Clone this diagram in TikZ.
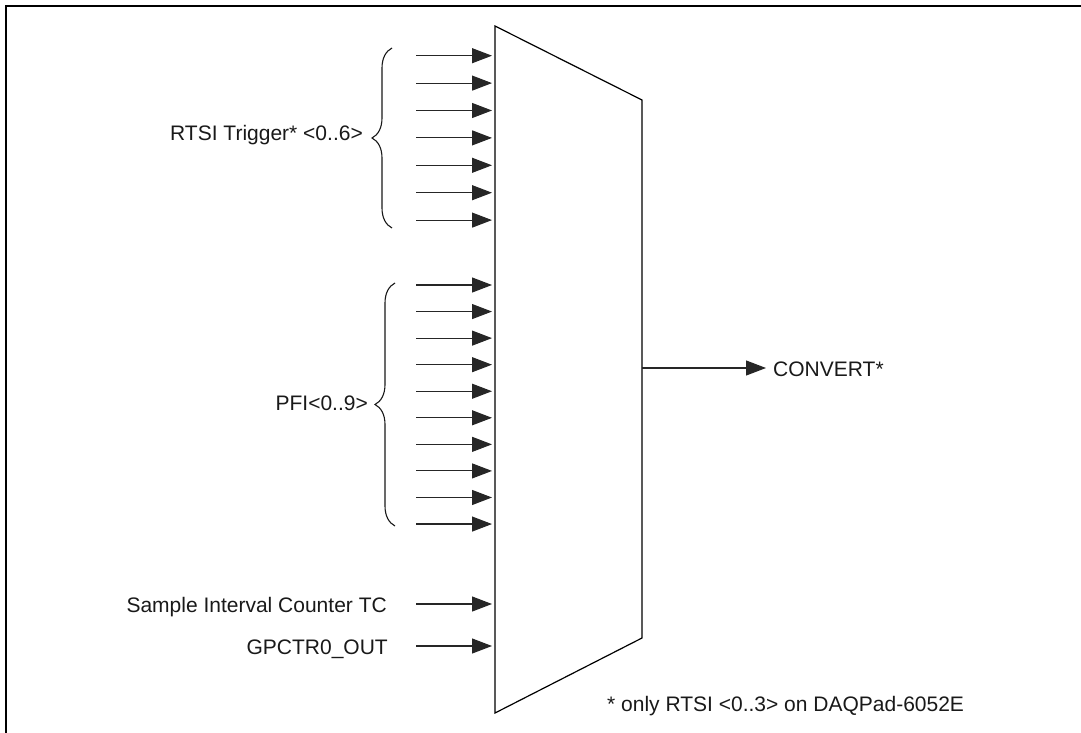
\documentclass[tikz,border=0pt]{standalone}
\usepackage{fontspec}
\setmainfont{Liberation Sans}
\usetikzlibrary{arrows.meta,decorations.pathreplacing}
\begin{document}
\begin{tikzpicture}[x=1pt,y=1pt,
  lbl/.style={font=\fontsize{21}{25}\selectfont, inner sep=0pt, text=black!90},
  sig/.style={line width=1.1pt, draw=black!85, -{Triangle[length=20pt,width=15pt]}},
  brc/.style={decorate, decoration={brace, amplitude=20pt}, line width=1.1pt, draw=black!90}]
\useasboundingbox (0,0) rectangle (1081,-733);
% frame
\draw[line width=2pt] (6,-733) -- (6,-6) -- (1081,-6);
% multiplexer
\coordinate (m1) at (495,-26);
\coordinate (m2) at (642,-100);
\coordinate (m3) at (642,-638);
\coordinate (m4) at (495,-713);
\draw[line width=1.2pt, line join=miter] (m1) -- (m2) -- (m3) -- (m4) -- cycle;
% RTSI inputs
\foreach \i in {0,...,6} {
  \pgfmathsetmacro\yy{-55.7-27.4*\i}
  \coordinate (rs\i) at (416,\yy);
  \coordinate (re\i) at (492,\yy);
  \draw[sig] (rs\i) -- (re\i);
}
% PFI inputs
\foreach \i in {0,...,9} {
  \pgfmathsetmacro\yy{-285-26.56*\i}
  \coordinate (ps\i) at (416,\yy);
  \coordinate (pe\i) at (492,\yy);
  \draw[sig] (ps\i) -- (pe\i);
}
% braces
\coordinate (rbB) at (392,-228);
\coordinate (rbT) at (392,-48);
\draw[brc] (rbB) -- (rbT);
\coordinate (pbB) at (395,-526);
\coordinate (pbT) at (395,-283);
\draw[brc] (pbB) -- (pbT);
% labels
\node[lbl, anchor=base east] (rtsi) at (363,-140.5) {RTSI Trigger* <0..6>};
\node[lbl, anchor=base east] (pfi) at (368,-410) {PFI<0..9>};
\node[lbl, anchor=base east] (sic) at (387,-612) {Sample Interval Counter TC};
\node[lbl, anchor=base east] (gpc) at (388,-654) {GPCTR0\_OUT};
% single inputs
\coordinate (ss) at (416,-604);
\coordinate (se) at (492,-604);
\draw[sig] (ss) -- (se);
\coordinate (gs) at (416,-646);
\coordinate (ge) at (492,-646);
\draw[sig] (gs) -- (ge);
% output
\node[lbl, anchor=base west] (conv) at (773,-376) {CONVERT*};
\coordinate (mo) at (642,-368);
\coordinate (ce) at (766,-368);
\draw[sig] (mo) -- (ce);
% footnote
\node[lbl, anchor=base west] (note) at (607,-711) {* only RTSI <0..3> on DAQPad-6052E};
\end{tikzpicture}
\end{document}
